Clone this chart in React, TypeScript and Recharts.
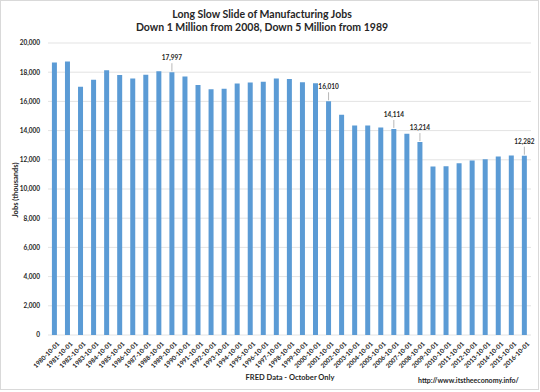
import { BarChart, Bar, XAxis, YAxis, CartesianGrid, LabelList } from 'recharts';

const years = [
  '1980-10-01', '1981-10-01', '1982-10-01', '1983-10-01', '1984-10-01', '1985-10-01',
  '1986-10-01', '1987-10-01', '1988-10-01', '1989-10-01', '1990-10-01', '1991-10-01',
  '1992-10-01', '1993-10-01', '1994-10-01', '1995-10-01', '1996-10-01', '1997-10-01',
  '1998-10-01', '1999-10-01', '2000-10-01', '2001-10-01', '2002-10-01', '2003-10-01',
  '2004-10-01', '2005-10-01', '2006-10-01', '2007-10-01', '2008-10-01', '2009-10-01',
  '2010-10-01', '2011-10-01', '2012-10-01', '2013-10-01', '2014-10-01', '2015-10-01',
  '2016-10-01',
];

const jobs = [
  18660, 18730, 17000, 17490, 18140, 17810,
  17560, 17830, 18070, 17997, 17700, 17120,
  16840, 16860, 17230, 17300, 17340, 17560,
  17540, 17320, 17250, 16010, 15080, 14350,
  14350, 14210, 14114, 13790, 13214, 11540,
  11560, 11770, 11950, 12040, 12230, 12300,
  12282,
];

const labeledYears = ['1989-10-01', '2001-10-01', '2006-10-01', '2008-10-01', '2016-10-01'];

const yTicks = [0, 2000, 4000, 6000, 8000, 10000, 12000, 14000, 16000, 18000, 20000];

const data = years.map((year, i) => ({ year, jobs: jobs[i] }));

const FONT = 'Lato, "Open Sans", sans-serif';
const TEXT = '#262626';

const fmt = (v: number) => v.toLocaleString('en-US');

function XTick(props: any) {
  const { x, y, payload } = props;
  return (
    <g transform={`translate(${x + 4},${y})`}>
      <text
        transform="rotate(-45)"
        textAnchor="end"
        dy={2}
        fontSize={6.3}
        fontWeight={700}
        fontFamily={FONT}
        fill={TEXT}
      >
        {payload.value}
      </text>
    </g>
  );
}

function Callout(props: any) {
  const { x, y, width, value, index } = props;
  if (!labeledYears.includes(years[index])) return null;
  const cx = x + width / 2;
  return (
    <g>
      <line x1={cx} x2={cx} y1={y - 9} y2={y - 1} stroke="#a6a6a6" strokeWidth={0.8} />
      <text
        x={cx}
        y={y - 12}
        textAnchor="middle"
        fontSize={6.5}
        fontWeight={700}
        fontFamily={FONT}
        fill={TEXT}
      >
        {fmt(value)}
      </text>
    </g>
  );
}

export default function App() {
  return (
    <div style={{ position: 'absolute', left: 0, top: 0, width: 540, height: 392, background: '#fff', fontFamily: FONT }}>
      <div
        style={{
          position: 'absolute',
          left: 0,
          top: 0,
          width: 539,
          height: 390,
          border: '1px solid #d9d9d9',
          boxSizing: 'border-box',
        }}
      />
      <div
        style={{
          position: 'absolute',
          left: 0,
          width: 524,
          top: 8,
          textAlign: 'center',
          fontSize: 10.5,
          fontWeight: 700,
          color: TEXT,
          lineHeight: '12.5px',
        }}
      >
        Long Slow Slide of Manufacturing Jobs
        <br />
        Down 1 Million from 2008, Down 5 Million from 1989
      </div>
      <div
        style={{
          position: 'absolute',
          left: 15,
          top: 190,
          transform: 'translate(-50%, -50%) rotate(-90deg)',
          whiteSpace: 'nowrap',
          fontSize: 7.5,
          fontWeight: 700,
          color: TEXT,
        }}
      >
        Jobs (thousands)
      </div>
      <div
        style={{
          position: 'absolute',
          left: 190,
          width: 200,
          top: 373,
          textAlign: 'center',
          fontSize: 7.5,
          fontWeight: 700,
          color: TEXT,
        }}
      >
        FRED Data - October Only
      </div>
      <div
        style={{
          position: 'absolute',
          left: 418,
          top: 376,
          fontSize: 7,
          fontWeight: 700,
          color: TEXT,
          whiteSpace: 'nowrap',
        }}
      >
        http://www.itstheeconomy.info/
      </div>
      <BarChart
        width={540}
        height={392}
        data={data}
        margin={{ top: 43, right: 9, bottom: 0, left: 0 }}
        barCategoryGap="30%"
      >
        <CartesianGrid vertical={false} stroke="#e3e3e3" strokeWidth={1} />
        <XAxis
          dataKey="year"
          interval={0}
          height={57}
          axisLine={false}
          tickLine={false}
          tick={<XTick />}
        />
        <YAxis
          width={48}
          domain={[0, 20000]}
          ticks={yTicks}
          axisLine={false}
          tickLine={false}
          tickFormatter={fmt}
          tick={{ fontSize: 6.5, fontWeight: 700, fontFamily: FONT, fill: TEXT }}
        />
        <Bar dataKey="jobs" fill="#5b9bd5" isAnimationActive={false}>
          <LabelList dataKey="jobs" content={<Callout />} />
        </Bar>
      </BarChart>
    </div>
  );
}
